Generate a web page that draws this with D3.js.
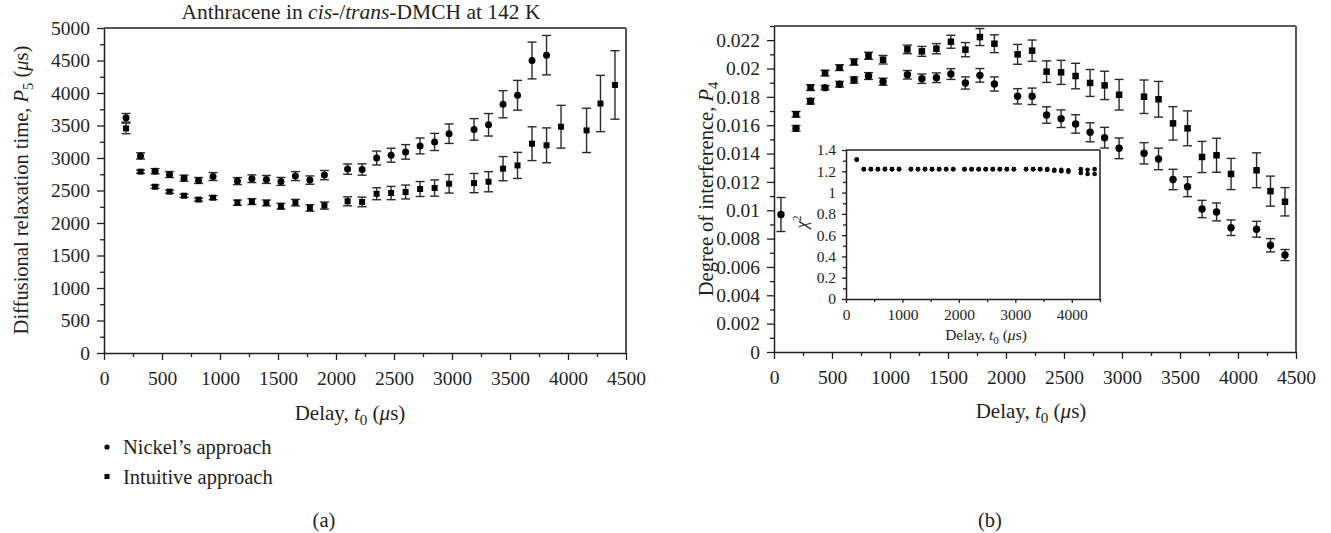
<!DOCTYPE html>
<html><head><meta charset="utf-8">
<script src="https://cdn.jsdelivr.net/npm/d3@7"></script>
<style>
body{margin:0;background:#fff}
svg{display:block}
text{font-family:"Liberation Serif","Times New Roman",serif;fill:#231f20}
</style>
</head><body><svg id="c" width="1331" height="533"></svg>
<script>
// ---------- data ----------
const delays = [190,315,440,565,690,815,940,1150,1275,1400,1525,1650,1775,1900,2100,2225,2350,2475,2600,2725,2850,2975,3190,3315,3440,3565,3690,3815,3940,4160,4280,4405];

// (a) P5, Nickel's approach (circles) – first 28 delays
const p5Nickel = [3619,3032,2797,2746,2690,2654,2715,2645,2681,2670,2640,2722,2660,2737,2829,2823,3000,3043,3094,3186,3247,3374,3440,3511,3827,3965,4500,4582];
const p5NickelErr = [66,48,40,46,46,46,61,54,59,61,61,69,64,71,79,87,107,107,112,122,132,150,166,173,209,229,283,303];
// (a) P5, Intuitive approach (squares)
const p5Intuitive = [3455,2790,2558,2482,2420,2360,2390,2313,2329,2309,2258,2313,2232,2268,2334,2324,2450,2461,2477,2523,2538,2604,2614,2635,2836,2886,3220,3195,3481,3425,3838,4124];
const p5IntuitiveErr = [81,25,25,25,25,25,30,40,45,45,45,50,50,55,69,74,92,102,107,115,125,143,148,155,186,201,260,268,329,341,433,527];

// (b) P4, Nickel's approach (circles) – includes an extra early point
const p4NickelDelays = [60,190,315,440,565,690,815,940,1150,1275,1400,1525,1650,1775,1900,2100,2225,2350,2475,2600,2725,2850,2975,3190,3315,3440,3565,3690,3815,3940,4160,4280,4405];
const p4Nickel = [0.0097,0.01578,0.01769,0.01865,0.01889,0.01919,0.01947,0.01907,0.01956,0.01928,0.01935,0.01961,0.01898,0.01952,0.01891,0.01804,0.01804,0.01672,0.01646,0.01609,0.0155,0.01512,0.01437,0.01402,0.01362,0.01217,0.01166,0.01009,0.00988,0.00877,0.00866,0.00753,0.00684];
const p4NickelErr = [0.0012,0.0002,0.0002,0.00015,0.0002,0.00022,0.00024,0.00025,0.0003,0.00033,0.00034,0.00038,0.00043,0.00048,0.0005,0.00054,0.00058,0.00058,0.00062,0.00065,0.00067,0.00073,0.00073,0.00075,0.00076,0.00072,0.0007,0.00061,0.00063,0.00055,0.00056,0.00047,0.00039];
// (b) P4, Intuitive approach (squares)
const p4Intuitive = [0.01677,0.01865,0.01968,0.02006,0.02046,0.0209,0.02062,0.02135,0.02121,0.0214,0.02189,0.02133,0.02222,0.02175,0.021,0.02126,0.01978,0.01973,0.01947,0.01898,0.01881,0.01815,0.01801,0.01783,0.01613,0.01578,0.01376,0.01388,0.01256,0.01282,0.01135,0.0106];
const p4IntuitiveErr = [0.0002,0.0002,0.0002,0.0002,0.00022,0.00025,0.0003,0.0003,0.00035,0.00036,0.00046,0.0005,0.0006,0.00063,0.0007,0.00075,0.00076,0.00085,0.0009,0.00095,0.001,0.00108,0.00118,0.00126,0.00118,0.00123,0.0011,0.0012,0.0011,0.00123,0.00106,0.001];

// inset chi^2
const chi2Nickel = [1.31,1.22,1.22,1.22,1.22,1.22,1.22,1.22,1.22,1.22,1.22,1.22,1.22,1.22,1.22,1.22,1.22,1.22,1.22,1.22,1.22,1.22,1.22,1.22,1.22,1.22,1.215,1.215,1.21,1.22,1.215,1.22];
const chi2Intuitive = [1.31,1.22,1.22,1.22,1.22,1.22,1.22,1.22,1.22,1.22,1.22,1.22,1.22,1.22,1.22,1.22,1.22,1.22,1.22,1.22,1.22,1.22,1.22,1.22,1.22,1.215,1.205,1.2,1.195,1.185,1.175,1.175];

// ticks
const xTicks = [0,500,1000,1500,2000,2500,3000,3500,4000,4500];
const xMinor = [250,750,1250,1750,2250,2750,3250,3750,4250];
const p5Ticks = [0,500,1000,1500,2000,2500,3000,3500,4000,4500,5000];
const p5Minor = [250,750,1250,1750,2250,2750,3250,3750,4250,4750];
const p4Ticks = [0,0.002,0.004,0.006,0.008,0.01,0.012,0.014,0.016,0.018,0.02,0.022];
const p4Minor = [0.001,0.003,0.005,0.007,0.009,0.011,0.013,0.015,0.017,0.019,0.021,0.023];
const insetXTicks = [0,1000,2000,3000,4000];
const insetXMinor = [500,1500,2500,3500,4500];
const insetYTicks = [0,0.2,0.4,0.6,0.8,1,1.2,1.4];
const insetYMinor = [0.1,0.3,0.5,0.7,0.9,1.1,1.3];

const legendLabels = ["Nickel\u2019s approach","Intuitive approach"];

// ---------- drawing ----------
const svg = d3.select("#c");
const INK = "#231f20";

function styleAxis(g, size){
  g.attr("font-family", null).attr("font-size", null);
  g.selectAll("text").style("font-size", size+"px").style("fill", INK);
  g.selectAll("line").attr("stroke", INK).attr("stroke-width", 1.3);
  g.selectAll("path.domain").attr("stroke", INK).attr("stroke-width", 1.5);
}

function frame(x, y, opts){
  const [x0,x1] = x.range(), [y0,y1] = y.range();
  const fs = opts.fs;
  const gxm = svg.append("g").attr("transform",`translate(0,${y0})`)
    .call(d3.axisBottom(x).tickValues(opts.xMinor).tickSize(opts.minor).tickFormat(""));
  gxm.select(".domain").remove(); styleAxis(gxm, fs);
  const gym = svg.append("g").attr("transform",`translate(${x0},0)`)
    .call(d3.axisLeft(y).tickValues(opts.yMinor).tickSize(opts.minor).tickFormat(""));
  gym.select(".domain").remove(); styleAxis(gym, fs);
  const gx = svg.append("g").attr("transform",`translate(0,${y0})`)
    .call(d3.axisBottom(x).tickValues(opts.xTicks).tickSize(opts.major).tickSizeOuter(0).tickPadding(opts.xpad).tickFormat(d3.format("d")));
  styleAxis(gx, fs);
  const gy = svg.append("g").attr("transform",`translate(${x0},0)`)
    .call(d3.axisLeft(y).tickValues(opts.yTicks).tickSize(opts.major).tickSizeOuter(0).tickPadding(opts.ypad).tickFormat(opts.yfmt));
  styleAxis(gy, fs);
  svg.append("line").attr("x1",x0).attr("x2",x1).attr("y1",y1).attr("y2",y1).attr("stroke",INK).attr("stroke-width",1.5);
  svg.append("line").attr("x1",x1).attr("x2",x1).attr("y1",y1).attr("y2",y0).attr("stroke",opts.rightColor||INK).attr("stroke-width",opts.rightW||1.5);
}

function errorBars(x, y, xs, vs, es, cap){
  const g = svg.append("g").attr("stroke", "#2a2a2a").attr("stroke-width", 1.4);
  xs.forEach((d,i)=>{
    if (i >= vs.length) return;
    const cx = x(d), yt = y(vs[i]+es[i]), yb = y(vs[i]-es[i]);
    g.append("line").attr("x1",cx).attr("x2",cx).attr("y1",yt).attr("y2",yb);
    g.append("line").attr("x1",cx-cap).attr("x2",cx+cap).attr("y1",yt).attr("y2",yt);
    g.append("line").attr("x1",cx-cap).attr("x2",cx+cap).attr("y1",yb).attr("y2",yb);
  });
}
function circles(x, y, xs, vs, r){
  svg.append("g").selectAll("circle").data(vs).join("circle")
    .attr("cx",(d,i)=>x(xs[i])).attr("cy",d=>y(d)).attr("r",r).attr("fill","#000");
}
function squares(x, y, xs, vs, s){
  svg.append("g").selectAll("rect").data(vs).join("rect")
    .attr("x",(d,i)=>x(xs[i])-s/2).attr("y",d=>y(d)-s/2).attr("width",s).attr("height",s).attr("fill","#000");
}

function delayLabel(xc, yc, fs){
  const t = svg.append("text").attr("x",xc).attr("y",yc).attr("text-anchor","middle").style("font-size",fs+"px");
  t.append("tspan").text("Delay, ");
  t.append("tspan").style("font-style","italic").text("t");
  t.append("tspan").attr("dy",fs*0.25).style("font-size",(fs*0.72)+"px").text("0");
  t.append("tspan").attr("dy",-fs*0.25).text(" (");
  t.append("tspan").style("font-style","italic").text("\u03bc");
  t.append("tspan").text("s)");
  return t;
}

// ===== (a) =====
const xa = d3.scaleLinear().domain([0,4500]).range([104,626]);
const ya = d3.scaleLinear().domain([0,5000]).range([353,28]);
frame(xa, ya, {fs:19.5, major:7, minor:4, xpad:11, ypad:7, xTicks, xMinor, yTicks:p5Ticks, yMinor:p5Minor, yfmt:d3.format("d"), rightColor:"#555", rightW:2});
errorBars(xa, ya, delays, p5Nickel, p5NickelErr, 4.5);
errorBars(xa, ya, delays, p5Intuitive, p5IntuitiveErr, 4.5);
circles(xa, ya, delays.slice(0,p5Nickel.length), p5Nickel, 3.5);
squares(xa, ya, delays, p5Intuitive, 6);

{
  const t = svg.append("text").attr("x",361).attr("y",19).attr("text-anchor","middle").style("font-size","21.5px");
  t.append("tspan").text("Anthracene in ");
  t.append("tspan").style("font-style","italic").text("cis");
  t.append("tspan").text("-/");
  t.append("tspan").style("font-style","italic").text("trans");
  t.append("tspan").text("-DMCH at 142 K");
}
{
  const t = svg.append("text").attr("transform","translate(28,190) rotate(-90)").attr("text-anchor","middle").style("font-size","20.5px");
  t.append("tspan").text("Diffusional relaxation time, ");
  t.append("tspan").style("font-style","italic").text("P");
  t.append("tspan").attr("dy",5).style("font-size","14.5px").text("5");
  t.append("tspan").attr("dy",-5).text(" (");
  t.append("tspan").style("font-style","italic").text("\u03bc");
  t.append("tspan").text("s)");
}
delayLabel(350, 420, 21);

svg.append("circle").attr("cx",107).attr("cy",447).attr("r",2.6).attr("fill","#000");
svg.append("rect").attr("x",104.5).attr("y",474).attr("width",5).attr("height",5).attr("fill","#000");
svg.selectAll("text.leg").data(legendLabels).join("text").attr("class","leg")
  .attr("x",123).attr("y",(d,i)=>[454,484][i]).style("font-size","20.5px").text(d=>d);
svg.append("text").attr("x",324).attr("y",527).attr("text-anchor","middle").style("font-size","20.5px").text("(a)");

// ===== (b) =====
const xb = d3.scaleLinear().domain([0,4500]).range([774,1296]);
const yb = d3.scaleLinear().domain([0,0.023]).range([352,26]);
frame(xb, yb, {fs:19.5, major:7, minor:4, xpad:11, ypad:7, xTicks, xMinor, yTicks:p4Ticks, yMinor:p4Minor, yfmt:d=>String(+d.toFixed(3)), rightColor:"#555", rightW:2});
errorBars(xb, yb, p4NickelDelays, p4Nickel, p4NickelErr, 4.5);
errorBars(xb, yb, delays, p4Intuitive, p4IntuitiveErr, 4.5);
circles(xb, yb, p4NickelDelays, p4Nickel, 3.7);
squares(xb, yb, delays, p4Intuitive, 6.5);

{
  const t = svg.append("text").attr("transform","translate(713,189) rotate(-90)").attr("text-anchor","middle").style("font-size","20.5px");
  t.append("tspan").text("Degree of interference, ");
  t.append("tspan").style("font-style","italic").text("P");
  t.append("tspan").attr("dy",5).style("font-size","14.5px").text("4");
}
delayLabel(1031, 418, 21);
svg.append("text").attr("x",990).attr("y",527).attr("text-anchor","middle").style("font-size","20.5px").text("(b)");

// ===== inset =====
const xi = d3.scaleLinear().domain([0,4500]).range([846,1100]);
const yi = d3.scaleLinear().domain([0,1.4]).range([299,150]);
svg.append("rect").attr("x",846).attr("y",150).attr("width",254).attr("height",149).attr("fill","#fff");
frame(xi, yi, {fs:15.5, major:4, minor:3, xpad:6, ypad:6, xTicks:insetXTicks, xMinor:insetXMinor, yTicks:insetYTicks, yMinor:insetYMinor, yfmt:d=>String(+d.toFixed(1))});
circles(xi, yi, delays, chi2Nickel, 2.3);
circles(xi, yi, delays, chi2Intuitive, 2.3);
{
  const t = svg.append("text").attr("transform","translate(807,222) rotate(-90)").attr("text-anchor","middle").style("font-size","17px");
  t.append("tspan").style("font-style","italic").text("\u03c7");
  t.append("tspan").attr("dy",-6).style("font-size","11.5px").text("2");
}
delayLabel(986, 340, 15.5);
</script>
</body></html>
